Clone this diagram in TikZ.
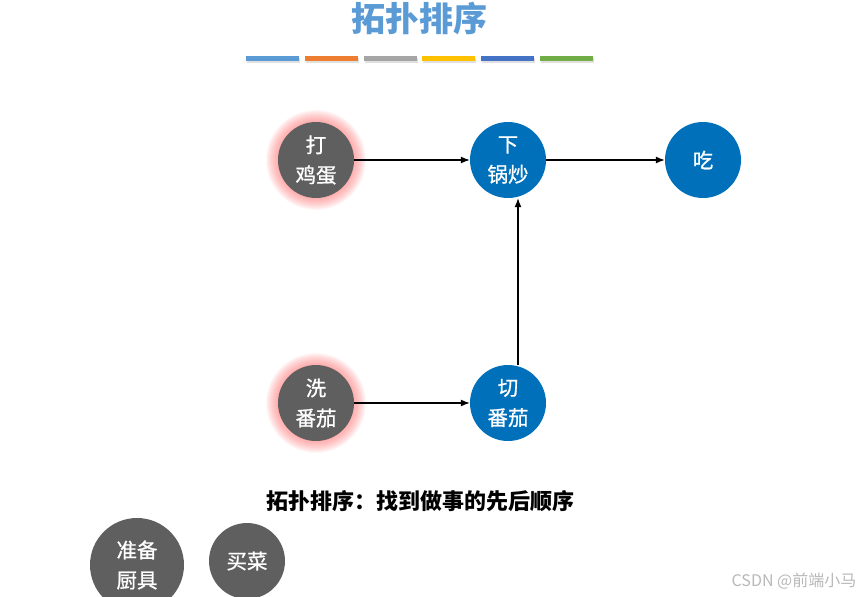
\documentclass[tikz,border=0pt]{standalone}
\usepackage{fontspec}
\newfontfamily\cjk{Noto Sans CJK SC}
\newfontfamily\cjkmid[FakeBold=0.9]{Noto Sans CJK SC}
\usetikzlibrary{arrows.meta}
\definecolor{taskgray}{HTML}{5F5F5F}
\definecolor{taskblue}{HTML}{0070BA}
\definecolor{titleblue}{HTML}{5B9BD5}
\tikzset{
  task/.style={circle, minimum size=76pt, inner sep=0pt, text=white, align=center,
    font=\cjkmid\fontsize{20.5}{30}\selectfont},
  todo/.style={task, fill=taskgray},
  done/.style={task, fill=taskblue},
  flow/.style={-{Latex[length=9pt,width=7pt]}, line width=1.1pt}
}
\begin{document}
\begin{tikzpicture}[x=1pt, y=-1pt]
  \useasboundingbox (0,0) rectangle (863,597);
  % title and colour bars
  \node[font=\cjk\bfseries\fontsize{34}{34}\selectfont, text=titleblue] (title) at (419,18) {拓扑排序};
  \foreach \c [count=\i from 0] in {5B9BD5,ED7D31,A5A5A5,FFC000,4472C4,70AD47} {
    \definecolor{bar}{HTML}{\c}
    \fill[black!12] (247+58.8*\i,58) rectangle ++(53,4.5);
    \fill[bar] (246+58.8*\i,55.5) rectangle ++(53,5.5);
  }
  % red glow behind the starting tasks
  \foreach \p in {(316,160),(316,403)}
    \foreach \r in {39,40,...,50}
      \fill[red!60, opacity=0.06] \p circle (\r);
  % tasks
  \node[todo] (egg) at (316,160) {打\\鸡蛋};
  \node[done] (fry) at (508,160) {下\\锅炒};
  \node[done] (eat) at (703,160) {吃};
  \node[todo] (wash) at (316,403) {洗\\番茄};
  \node[done] (cut) at (508,403) {切\\番茄};
  \node[todo, minimum size=94pt] (tools) at (137,565) {准备\\厨具};
  \node[todo] (buy) at (247,561) {买菜};
  % order
  \draw[flow] (egg) -- (fry);
  \draw[flow] (fry) -- (eat);
  \draw[flow] (wash) -- (cut);
  \draw[flow] ([xshift=10pt]cut.north) -- ([xshift=10pt]fry.south);
  % captions
  \node[font=\cjk\bfseries\fontsize{22}{22}\selectfont] (caption) at (420,501) {拓扑排序：找到做事的先后顺序};
  \node[font=\cjk\fontsize{16}{16}\selectfont, text=black!28] (mark) at (794,581) {CSDN @前端小马};
\end{tikzpicture}
\end{document}
